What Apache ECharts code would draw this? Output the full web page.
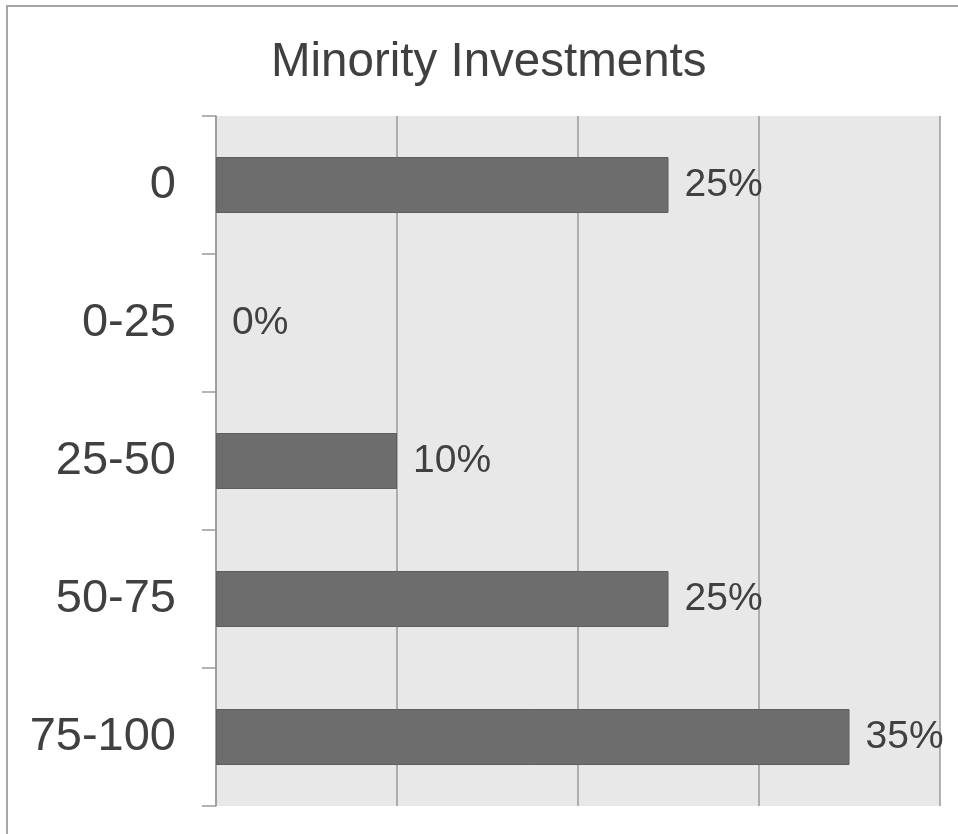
<!DOCTYPE html>
<html>
<head>
<meta charset="utf-8">
<title>Minority Investments</title>
<script src="https://cdn.jsdelivr.net/npm/echarts@6/dist/echarts.min.js"></script>
<style>
  html, body { margin: 0; padding: 0; background: #ffffff; }
  #chart { width: 958px; height: 834px; }
</style>
</head>
<body>
<div id="chart"></div>
<script>
// Share of minority investments by ownership band (percent)
const categories = ['0', '0-25', '25-50', '50-75', '75-100'];
const shares = [25, 0, 10, 25, 35];
const axisMax = 40;
const axisStep = 10;

const chart = echarts.init(document.getElementById('chart'), null, { renderer: 'canvas' });

const textColor = '#404040';
const fontFamily = '"Liberation Sans", Arial, sans-serif';

// Zero-length bars get no outline so no sliver is drawn on the axis
const barData = shares.map(v => v === 0 ? { value: v, itemStyle: { borderWidth: 0 } } : v);

chart.setOption({
  animation: false,
  backgroundColor: '#ffffff',
  graphic: [{
    type: 'rect',
    shape: { x: 7, y: 6, width: 1200, height: 1200 },
    style: { fill: 'none', stroke: '#a6a6a6', lineWidth: 2 },
    silent: true
  }],
  title: {
    text: 'Minority Investments',
    left: 271,
    top: 39,
    padding: 0,
    textStyle: {
      color: textColor,
      fontFamily: fontFamily,
      fontSize: 47.5,
      fontWeight: 'normal'
    }
  },
  grid: {
    left: 216,
    right: 18,
    top: 116,
    bottom: 28,
    show: true,
    backgroundColor: '#e8e8e8',
    borderWidth: 0
  },
  xAxis: {
    type: 'value',
    min: 0,
    max: axisMax,
    interval: axisStep,
    axisLine: { show: false },
    axisTick: { show: false },
    axisLabel: { show: false },
    splitLine: { show: true, lineStyle: { color: '#9a9a9a', width: 1.5 } }
  },
  yAxis: {
    type: 'category',
    data: categories,
    inverse: true,
    axisLine: { show: true, lineStyle: { color: '#9a9a9a', width: 1.5 } },
    axisTick: { show: true, length: 14, lineStyle: { color: '#9a9a9a', width: 1.5 } },
    axisLabel: {
      margin: 40,
      color: textColor,
      fontFamily: fontFamily,
      fontSize: 47
    },
    splitLine: { show: false }
  },
  series: [{
    type: 'bar',
    data: barData,
    barWidth: 56,
    itemStyle: {
      color: '#6d6d6d',
      borderColor: '#5e5e5e',
      borderWidth: 1
    },
    label: {
      show: true,
      position: 'right',
      distance: 16,
      formatter: '{c}%',
      color: textColor,
      fontFamily: fontFamily,
      fontSize: 39
    }
  }]
});
</script>
</body>
</html>
